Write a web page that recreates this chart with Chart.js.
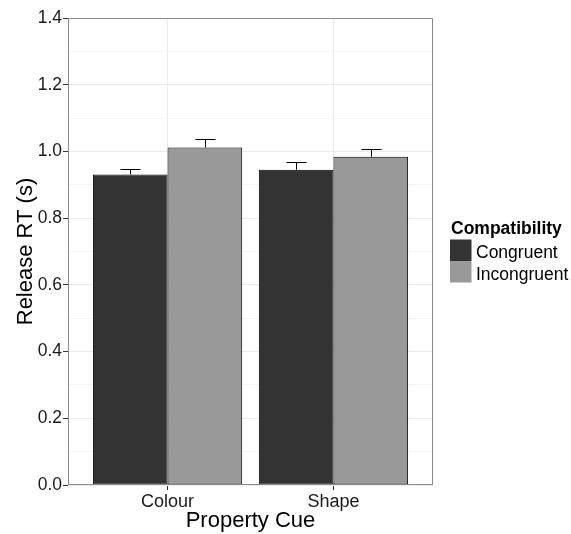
<!DOCTYPE html>
<html>
<head>
<meta charset="utf-8">
<script src="https://cdn.jsdelivr.net/npm/chart.js@4/dist/chart.umd.min.js"></script>
<style>
  body { margin: 0; background: #fff; }
</style>
</head>
<body>
<canvas id="rtChart" width="571" height="534"></canvas>
<script>
// Data
const categories = ["Colour", "Shape"];
const groups = ["Congruent", "Incongruent"];
const congruentRT = [0.931, 0.945];
const incongruentRT = [1.012, 0.984];
const congruentSE = [0.016, 0.022];
const incongruentSE = [0.026, 0.022];
const yTicks = [0, 0.1, 0.2, 0.3, 0.4, 0.5, 0.6, 0.7, 0.8, 0.9, 1.0, 1.1, 1.2, 1.3, 1.4];

const barColours = ["#333333", "#999999"];
const FONT = "'Liberation Sans', Arial, sans-serif";

function toPoints(values, errors) {
    return values.map((v, i) => ({ x: i + 1, y: v, se: errors[i] }))
}

function isMajor(v) {
    return Math.round(v * 10) % 2 === 0
}

// Error bars: only the upper half shows above the bar top
const errorBars = {
    id: "errorBars",
    afterDatasetsDraw(chart) {
        const ctx = chart.ctx
        const y = chart.scales.y
        ctx.save()
        ctx.strokeStyle = "#000"
        ctx.lineWidth = 1
        chart.data.datasets.forEach((ds, di) => {
            const meta = chart.getDatasetMeta(di)
            meta.data.forEach((bar, i) => {
                const p = ds.data[i]
                const top = Math.round(y.getPixelForValue(p.y + p.se)) + 0.5
                const base = y.getPixelForValue(p.y)
                const half = bar.width * 0.135
                const cx = Math.round(bar.x) + 0.5
                ctx.beginPath()
                ctx.moveTo(cx, top)
                ctx.lineTo(cx, base)
                ctx.moveTo(cx - half, top)
                ctx.lineTo(cx + half, top)
                ctx.stroke()
            })
        })
        ctx.restore()
    }
}

// Panel border and ggplot-like legend
const panelAndLegend = {
    id: "panelAndLegend",
    afterDraw(chart) {
        const ctx = chart.ctx
        const a = chart.chartArea
        ctx.save()
        ctx.strokeStyle = "#8a8a8a"
        ctx.lineWidth = 1
        ctx.strokeRect(a.left + 0.5, a.top + 0.5, a.right - a.left - 1, a.bottom - a.top - 1)

        ctx.fillStyle = "#000"
        ctx.font = "bold 17.5px " + FONT
        ctx.textBaseline = "alphabetic"
        ctx.fillText("Compatibility", 451, 234)

        ctx.font = "17.5px " + FONT
        groups.forEach((g, i) => {
            const top = 239.5 + i * 21.5
            ctx.fillStyle = barColours[i]
            ctx.fillRect(450, top, 21.5, 21.5)
            ctx.fillStyle = "#000"
            ctx.fillText(g, 476, top + 18.5)
        })
        ctx.restore()
    }
}

const ctx = document.getElementById("rtChart").getContext("2d")

new Chart(ctx, {
    type: "bar",
    data: {
        datasets: [
            {
                label: groups[0],
                data: toPoints(congruentRT, congruentSE),
                backgroundColor: barColours[0],
                borderColor: "#000",
                borderWidth: 1,
                borderSkipped: false
            },
            {
                label: groups[1],
                data: toPoints(incongruentRT, incongruentSE),
                backgroundColor: barColours[1],
                borderColor: "#000",
                borderWidth: 1,
                borderSkipped: false
            }
        ]
    },
    options: {
        responsive: false,
        animation: false,
        layout: { padding: { top: 18, right: 138, left: 0, bottom: 0 } },
        datasets: { bar: { categoryPercentage: 0.9, barPercentage: 1.0 } },
        scales: {
            x: {
                type: "linear",
                offset: false,
                min: 0.4,
                max: 2.6,
                afterBuildTicks: (scale) => {
                    scale.ticks = categories.map((c, i) => ({ value: i + 1 }))
                },
                afterFit: (scale) => { scale.height = 49 },
                border: { display: false },
                grid: {
                    offset: false,
                    color: "#ebebeb",
                    lineWidth: 1,
                    drawTicks: true,
                    tickLength: 5,
                    tickColor: "#333"
                },
                ticks: {
                    padding: 1,
                    color: "#1a1a1a",
                    font: { family: FONT, size: 18 },
                    callback: (v) => categories[Math.round(v) - 1] || ""
                },
                title: {
                    display: true,
                    text: "Property Cue",
                    color: "#000",
                    font: { family: FONT, size: 22 },
                    padding: { top: 0, bottom: 0 }
                }
            },
            y: {
                min: 0,
                max: 1.4,
                afterBuildTicks: (scale) => {
                    scale.ticks = yTicks.map(v => ({ value: v }))
                },
                afterFit: (scale) => { scale.width = 68 },
                border: { display: false },
                grid: {
                    color: (c) => isMajor(c.tick.value) ? "#ebebeb" : "#f5f5f5",
                    lineWidth: 1,
                    tickLength: 5,
                    tickColor: (c) => isMajor(c.tick.value) ? "#333" : "rgba(0,0,0,0)"
                },
                ticks: {
                    autoSkip: false,
                    padding: 1,
                    color: "#1a1a1a",
                    font: { family: FONT, size: 17.5 },
                    callback: (v) => isMajor(v) ? v.toFixed(1) : ""
                },
                title: {
                    display: true,
                    text: "Release RT (s)",
                    color: "#000",
                    font: { family: FONT, size: 22 },
                    padding: { top: 13, bottom: 0 }
                }
            }
        },
        plugins: {
            legend: { display: false },
            tooltip: { enabled: false }
        }
    },
    plugins: [errorBars, panelAndLegend]
})
</script>
</body>
</html>
